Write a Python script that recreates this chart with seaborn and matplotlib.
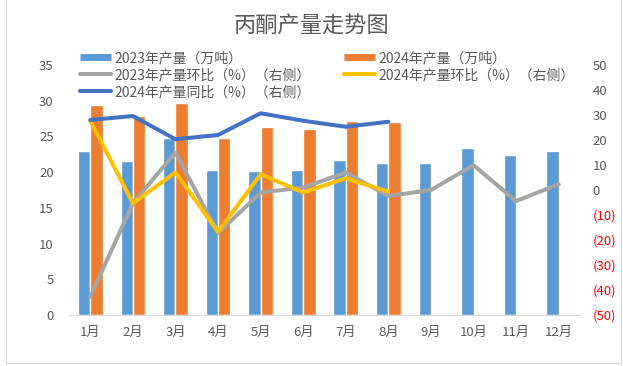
import numpy as np
import pandas as pd
import matplotlib.pyplot as plt
import seaborn as sns
from matplotlib.lines import Line2D
from matplotlib.patches import Rectangle

months = ["1月", "2月", "3月", "4月", "5月", "6月", "7月", "8月", "9月", "10月", "11月", "12月"]
prod_2023 = [23.0, 21.6, 24.8, 20.3, 20.2, 20.3, 21.7, 21.3, 21.3, 23.4, 22.4, 23.0]
prod_2024 = [29.4, 27.9, 29.7, 24.8, 26.3, 26.0, 27.2, 27.0, np.nan, np.nan, np.nan, np.nan]
mom_2023 = [-42.7, -5.3, 15.0, -17.3, -1.0, 1.0, 7.0, -2.4, 0.0, 9.9, -4.4, 2.3]
mom_2024 = [27.7, -5.3, 7.0, -16.7, 6.3, -1.0, 4.7, -0.7, np.nan, np.nan, np.nan, np.nan]
yoy_2024 = [28.0, 29.6, 20.3, 22.0, 30.7, 27.7, 25.3, 27.3, np.nan, np.nan, np.nan, np.nan]

left_ticks = [0, 5, 10, 15, 20, 25, 30, 35]
right_ticks = [-50, -40, -30, -20, -10, 0, 10, 20, 30, 40, 50]

lab_p23 = "2023年产量（万吨）"
lab_p24 = "2024年产量（万吨）"
lab_m23 = "2023年产量环比（%）（右侧）"
lab_m24 = "2024年产量环比（%）（右侧）"
lab_y24 = "2024年产量同比（%）（右侧）"

c23, c24 = "#5B9BD5", "#ED7D31"
c_gray, c_yel, c_blue = "#A5A5A5", "#FFC000", "#4472C4"
txt = "#595959"

sns.set_style("white")
plt.rcParams['font.family'] = ['Noto Sans CJK SC', 'DejaVu Sans']

bars = pd.DataFrame({
    "month": months * 2,
    "series": [lab_p23] * 12 + [lab_p24] * 12,
    "value": prod_2023 + prod_2024,
})
lines = pd.DataFrame({"pos": np.arange(12), "m23": mom_2023, "m24": mom_2024, "y24": yoy_2024})

fig = plt.figure(figsize=(6.23, 3.66), dpi=100)
ax = fig.add_axes([69 / 623, 1 - 315 / 366, (580 - 69) / 623, 250 / 366])

sns.barplot(data=bars, x="month", y="value", hue="series", order=months,
            palette={lab_p23: c23, lab_p24: c24}, width=0.58, saturation=1,
            legend=False, ax=ax)
ax.set_xlim(-0.5, 11.5)
ax.set_ylim(0, 35)
ax.set_yticks(left_ticks)
ax.set_xlabel("")
ax.set_ylabel("")
for s in ["top", "left", "right"]:
    ax.spines[s].set_visible(False)
ax.spines["bottom"].set_color("#D9D9D9")
ax.tick_params(axis="x", length=0, pad=8, labelsize=9.5, labelcolor=txt)
ax.set_xticks(np.arange(-0.5, 12, 1), minor=True)
ax.tick_params(axis="x", which="minor", length=4, color="#D9D9D9", direction="out")
ax.tick_params(axis="y", length=0, pad=11, labelsize=9.5, labelcolor=txt)

ax2 = ax.twinx()
sns.lineplot(data=lines, x="pos", y="m23", color=c_gray, lw=2.9, ax=ax2)
sns.lineplot(data=lines, x="pos", y="m24", color=c_yel, lw=2.9, ax=ax2)
sns.lineplot(data=lines, x="pos", y="y24", color=c_blue, lw=2.9, ax=ax2)
ax2.set_xlim(-0.5, 11.5)
ax2.set_ylim(-50, 50)
ax2.set_yticks(right_ticks)
ax2.set_yticklabels([f"({-v})" if v < 0 else str(v) for v in right_ticks])
for v, t in zip(right_ticks, ax2.get_yticklabels()):
    t.set_color("red" if v < 0 else txt)
ax2.set_ylabel("")
ax2.tick_params(axis="y", length=0, pad=9, labelsize=9.5)
for s in ax2.spines.values():
    s.set_visible(False)

fig.text(311.5 / 623, 1 - 26 / 366, "丙酮产量走势图", ha="center", va="center",
         fontsize=16, color=txt)

h_p23 = Line2D([], [], color=c23, lw=5, solid_capstyle="butt")
h_p24 = Line2D([], [], color=c24, lw=5, solid_capstyle="butt")
h_m23 = Line2D([], [], color=c_gray, lw=2.9, solid_capstyle="round")
h_m24 = Line2D([], [], color=c_yel, lw=2.9, solid_capstyle="round")
h_y24 = Line2D([], [], color=c_blue, lw=2.9, solid_capstyle="round")
leg_kw = dict(frameon=False, fontsize=10, handlelength=2.2, handletextpad=0.3,
              labelspacing=0.22, borderpad=0, borderaxespad=0, labelcolor=txt)
fig.legend([h_p23, h_m23, h_y24], [lab_p23, lab_m23, lab_y24], loc="upper left",
           bbox_to_anchor=(80 / 623, 1 - 51 / 366), **leg_kw)
fig.legend([h_p24, h_m24], [lab_p24, lab_m24], loc="upper left",
           bbox_to_anchor=(344 / 623, 1 - 51 / 366), **leg_kw)

fig.patches.append(Rectangle((5.5 / 623, 1 - 362.5 / 366), 615 / 623, 362.5 / 366 + 0.05,
                             transform=fig.transFigure, fill=False, ec="#D9D9D9", lw=0.8))

fig.savefig("out.png", dpi=100)
